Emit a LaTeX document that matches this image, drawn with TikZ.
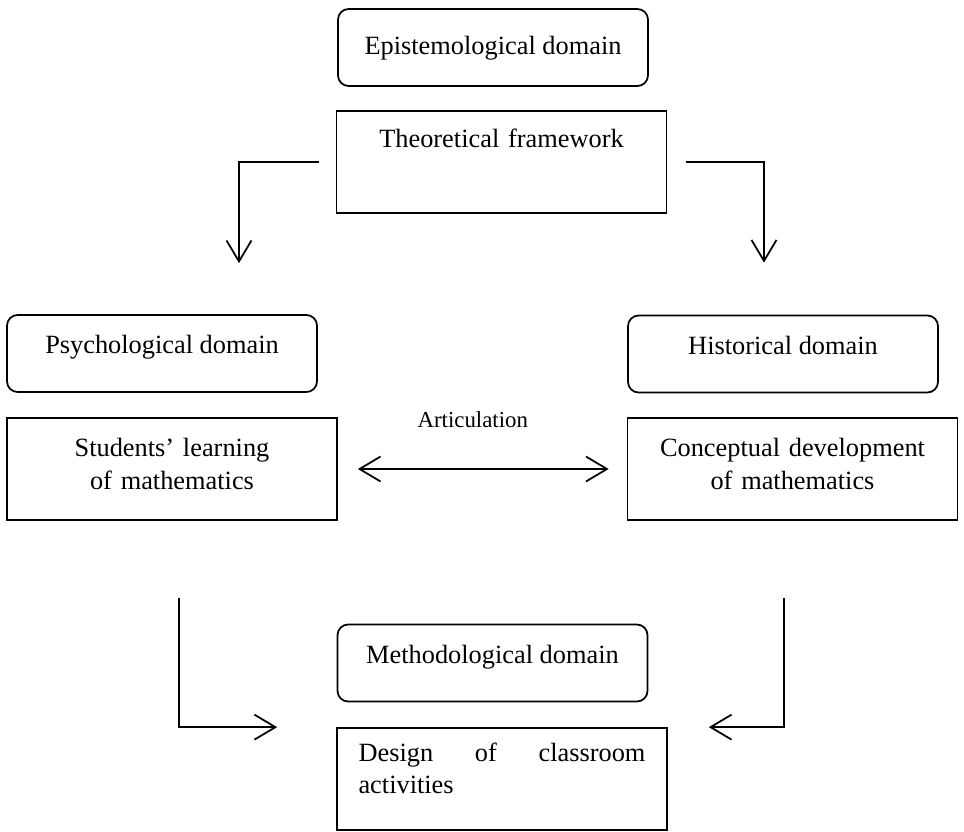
\documentclass[tikz,border=0pt]{standalone}
\usepackage{fontspec}
\setmainfont{Liberation Serif}
\usetikzlibrary{arrows.meta}

\tikzset{barb/.tip={Straight Barb[length=0.42cm, width=0.5cm]}}

\begin{document}
\begin{tikzpicture}[
    x=0.02cm, y=-0.02cm,
    font=\fontsize{15}{18.5}\selectfont,
    dom/.style={rectangle, draw, rounded corners=6pt, minimum width=6.2cm, minimum height=1.54cm, text height=0.36cm, text depth=0.36cm, inner sep=0pt, line width=1pt},
    task/.style={rectangle, draw, minimum width=6.6cm, minimum height=2.04cm, text width=6.1cm, align=center, inner sep=0pt, line width=1pt},
    arrow/.style={-barb, line width=1pt}
]
    \useasboundingbox (0,0) rectangle (964,832);

    \node[dom, text height=0.5cm, text depth=0.22cm] (epi) at (493,47.5) {Epistemological domain};
    \node[task, text height=0.36cm, text depth=0.96cm] (theo) at (501.5,162) {Theoretical framework};
    \node[dom] (psy) at (162,353.5) {Psychological domain};
    \node[task, text depth=0.85cm] (stu) at (172,469) {Students' learning\\of mathematics};
    \node[dom] (his) at (783,354) {Historical domain};
    \node[task, text depth=0.85cm] (con) at (792.5,469) {Conceptual development\\of mathematics};
    \node[dom] (met) at (492.5,663) {Methodological domain};
    \node[task, text width=5.74cm, align=left, text depth=1.09cm] (des) at (502,779) {Design\hfill of\hfill classroom\\activities};

    \draw[arrow, shorten <=0.34cm, shorten >=1.02cm] (theo.west) -| ([xshift=1.54cm]psy.north);
    \draw[arrow, shorten <=0.38cm, shorten >=1.04cm] (theo.east) -| ([xshift=-0.38cm]his.north);
    \draw[barb-barb, line width=1pt, shorten <=0.4cm, shorten >=0.36cm] (stu) -- node[above=0.8cm, xshift=-0.19cm, inner sep=0pt, font=\fontsize{13}{15}\selectfont] (art) {Articulation} (con);
    \draw[arrow, shorten <=1.54cm, shorten >=1.18cm] ([xshift=0.14cm]stu.south) |- (des.north west);
    \draw[arrow, shorten <=1.54cm, shorten >=0.82cm] ([xshift=-0.17cm]con.south) |- (des.north east);
\end{tikzpicture}
\end{document}
